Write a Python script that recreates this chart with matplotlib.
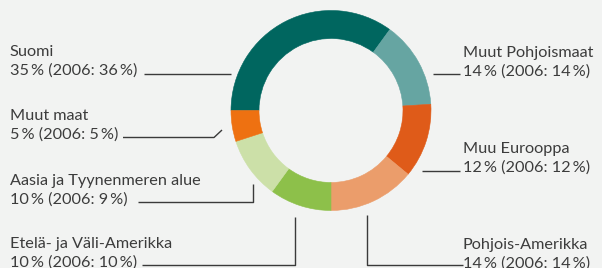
import matplotlib
matplotlib.use("Agg")
import matplotlib.pyplot as plt

# Data
regions = ["Suomi", "Muut Pohjoismaat", "Muu Eurooppa", "Pohjois-Amerikka",
           "Etelä- ja Väli-Amerikka", "Aasia ja Tyynenmeren alue", "Muut maat"]
share_2007 = [35, 14, 12, 14, 10, 10, 5]
share_2006 = [36, 14, 12, 14, 10, 9, 5]
colors = ["#00665f", "#66a5a2", "#df5b19", "#eb9d6b", "#8dc04a", "#cce0a8", "#ee7111"]

W, H = 602, 268
BG = "#f2f3f2"
TXT = "#3c3c3c"
LINE = "#3a3a3a"

plt.rcParams['font.family'] = ['Lato', 'DejaVu Sans']

fig = plt.figure(figsize=(W / 100, H / 100), dpi=100, facecolor=BG)
ax = fig.add_axes([0, 0, 1, 1])
ax.set_facecolor(BG)

def Y(py):
    return H - py

cx, cy, R = 331, Y(110.5), 100
ax.pie(share_2007, colors=colors, startangle=180, counterclock=False,
       center=(cx, cy), radius=R,
       wedgeprops=dict(width=28, linewidth=0.4, antialiased=True),
       frame=True)
for w, c in zip(ax.patches, colors):
    w.set_edgecolor(c)

ax.set_xlim(0, W)
ax.set_ylim(0, H)
ax.set_aspect('equal')
ax.axis('off')

fs = 11.7
def label(x, base1, name, i):
    txt2 = f"{share_2007[i]}\u2009% (2006: {share_2006[i]}\u2009%)"
    ax.text(x, Y(base1), name, fontsize=fs, color=TXT, ha='left', va='baseline')
    ax.text(x, Y(base1 + 19), txt2, fontsize=fs, color=TXT, ha='left', va='baseline')

# left side labels
label(10, 56, regions[0], 0)
label(10, 120, regions[6], 6)
label(10, 185, regions[5], 5)
label(10, 248, regions[4], 4)
# right side labels
label(463, 57, regions[1], 1)
label(463, 153, regions[2], 2)
label(463, 249, regions[3], 3)

lw = 1.0
def seg(xs, ys):
    ax.plot(xs, [Y(v) for v in ys], color=LINE, lw=lw, solid_capstyle='butt')

seg([144, 231], [74, 74])                    # Suomi
seg([123, 214, 222], [137.5, 137.5, 130])    # Muut maat
seg([138, 253, 253], [202, 202, 184])        # Aasia
seg([142, 295, 295], [265, 265, 217])        # Etelä
seg([433, 460], [74, 74])                    # Muut Pohjoismaat
seg([422, 460], [171, 171])                  # Muu Eurooppa
seg([463, 367, 367], [265, 265, 215])        # Pohjois-Amerikka

fig.savefig("out.png", dpi=100, facecolor=BG)
